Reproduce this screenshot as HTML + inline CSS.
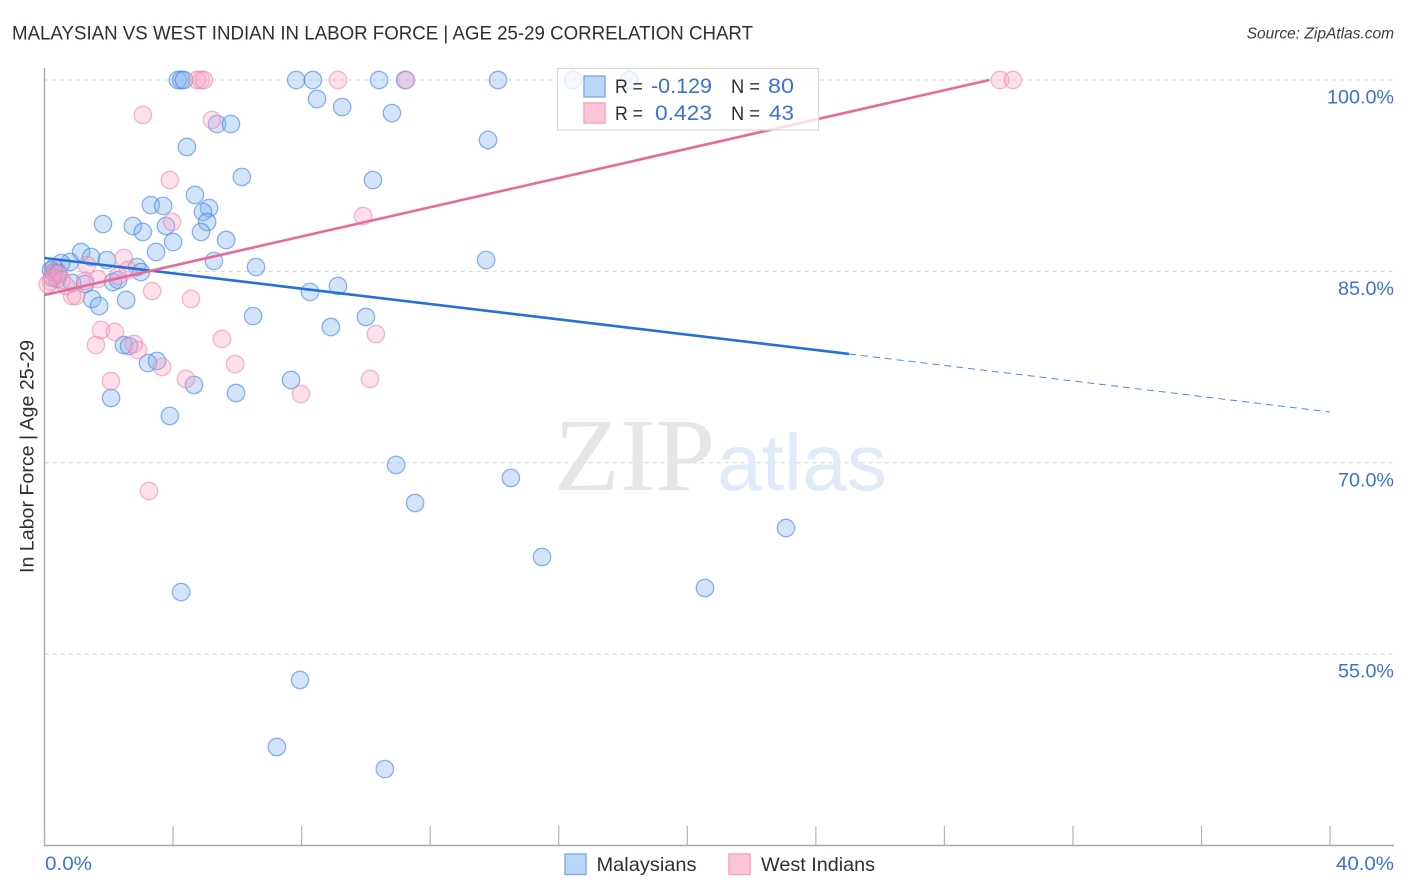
<!DOCTYPE html>
<html>
<head>
<meta charset="utf-8">
<title>Malaysian vs West Indian In Labor Force Correlation Chart</title>
<style>
html,body{margin:0;padding:0;background:#fff;width:1406px;height:892px;overflow:hidden}
svg{display:block}
text{font-family:"Liberation Sans",sans-serif}
</style>
</head>
<body>
<svg id="chart" width="1406" height="892" viewBox="0 0 1406 892" xmlns="http://www.w3.org/2000/svg">
  <text x="12" y="39.5" font-size="19.5" fill="#2d2f36" textLength="741" lengthAdjust="spacingAndGlyphs">MALAYSIAN VS WEST INDIAN IN LABOR FORCE | AGE 25-29 CORRELATION CHART</text>
  <text x="1394" y="38.5" font-size="15.5" font-style="italic" fill="#3a3c42" text-anchor="end">Source: ZipAtlas.com</text>
  <g id="grid"></g>
  <g>
    <text x="554" y="490" font-size="104" fill="#e6e6e6" textLength="161" lengthAdjust="spacingAndGlyphs" style="font-family:'Liberation Serif',serif">ZIP</text>
    <text x="717" y="490" font-size="80" fill="#e0eaf8" textLength="170" lengthAdjust="spacingAndGlyphs">atlas</text>
  </g>
  <g id="axes"></g>
  <g id="points-blue"></g>
  <g id="points-pink"></g>
  <g id="trends"></g>
  <g id="ylabels"></g>
  <text transform="translate(33.5,456.5) rotate(-90)" font-size="19.5" fill="#2d2f36" text-anchor="middle" textLength="233" lengthAdjust="spacingAndGlyphs">In Labor Force | Age 25-29</text>
  <text x="45" y="870" font-size="19.5" fill="#3b72d3" textLength="47" lengthAdjust="spacingAndGlyphs">0.0%</text>
  <text x="1336" y="870" font-size="19.5" fill="#3b72d3" textLength="58" lengthAdjust="spacingAndGlyphs">40.0%</text>

  <g>
    <rect x="557.5" y="68.5" width="261" height="61.5" fill="#ffffff" fill-opacity="0.76" stroke="#d9d9d9" stroke-width="1.2"/>
    <rect x="584" y="76" width="21" height="21" fill="#b9d5fa" stroke="#7fa9e6" stroke-width="1.4"/>
    <rect x="584" y="103" width="21" height="20" fill="#fcc6d8" stroke="#f2a3bd" stroke-width="1.4"/>
    <text x="615" y="93" font-size="19.5" fill="#2d2f36" textLength="28" lengthAdjust="spacingAndGlyphs">R =</text>
    <text x="651" y="93" font-size="21" fill="#3b72d3" textLength="61" lengthAdjust="spacingAndGlyphs">-0.129</text>
    <text x="731" y="93" font-size="19.5" fill="#2d2f36" textLength="29" lengthAdjust="spacingAndGlyphs">N =</text>
    <text x="768" y="93" font-size="21" fill="#3b72d3" textLength="26" lengthAdjust="spacingAndGlyphs">80</text>
    <text x="615" y="120" font-size="19.5" fill="#2d2f36" textLength="28" lengthAdjust="spacingAndGlyphs">R =</text>
    <text x="655" y="120" font-size="21" fill="#3b72d3" textLength="57" lengthAdjust="spacingAndGlyphs">0.423</text>
    <text x="731" y="120" font-size="19.5" fill="#2d2f36" textLength="29" lengthAdjust="spacingAndGlyphs">N =</text>
    <text x="769" y="120" font-size="21" fill="#3b72d3" textLength="25" lengthAdjust="spacingAndGlyphs">43</text>
  </g>

  <g>
    <rect x="565" y="854" width="21" height="20.5" fill="#b9d5fa" stroke="#7fa9e6" stroke-width="1.4"/>
    <text x="596.5" y="871" font-size="19.5" fill="#2d2f36" textLength="100" lengthAdjust="spacingAndGlyphs">Malaysians</text>
    <rect x="729" y="854" width="21" height="20.5" fill="#fcc6d8" stroke="#f2a3bd" stroke-width="1.4"/>
    <text x="761" y="871" font-size="19.5" fill="#2d2f36" textLength="114" lengthAdjust="spacingAndGlyphs">West Indians</text>
  </g>
</svg>
<script>
// Chart data (x = % Malaysian/West Indian share, y = % in labor force)
const yTickValues = [100, 85, 70, 55];
const yTickLabels = ["100.0%", "85.0%", "70.0%", "55.0%"];
const xTickValues = [0, 4, 8, 12, 16, 20, 24, 28, 32, 36, 40];

const malaysianX = [4.15,4.25,4.34,7.83,8.35,10.41,11.22,14.11,16.44,18.19,
  8.48,9.26,10.81,13.80,4.43,5.37,5.80,6.14,10.22,4.68,
  3.31,3.69,5.12,4.93,5.06,1.82,2.75,3.06,3.78,4.87,
  5.65,4.00,3.47,1.14,5.27,6.58,13.74,9.13,8.26,1.45,
  1.94,2.88,3.00,0.79,0.52,0.30,0.20,0.30,0.42,0.25,
  0.40,0.86,2.13,2.29,1.26,1.48,1.70,2.54,6.49,
  10.00,8.91,2.47,2.63,3.22,3.50,4.65,7.67,5.96,2.07,
  3.90,10.94,11.53,14.51,15.48,23.07,20.55,4.25,7.95,7.23,10.59];
const malaysianY = [100,100,100,100,100,100,100,100,100,100,
  98.51,97.88,97.41,95.30,94.75,96.55,96.55,92.40,92.16,90.99,
  90.20,90.13,89.97,89.66,88.87,88.71,88.56,88.09,88.56,88.09,
  87.46,87.30,86.52,86.52,85.82,85.34,85.89,83.86,83.39,86.13,
  85.89,85.34,84.95,85.74,85.66,85.30,85.10,84.90,84.90,84.50,
  84.40,84.09,84.17,84.33,84.01,82.84,82.29,82.76,81.50,
  81.43,80.64,79.23,79.15,77.82,77.98,76.10,76.49,75.47,75.08,
  73.67,69.83,66.85,68.81,62.62,64.89,60.19,59.87,52.98,47.73,46.00];

const westIndianX = [4.74,4.87,4.96,9.13,11.25,29.73,30.13,
  3.06,5.21,3.90,3.97,9.91,2.47,1.32,2.60,1.66,2.29,4.56,3.35,
  5.52,10.31,5.93,10.13,3.66,4.40,7.98,2.07,1.60,1.76,2.19,
  2.78,2.91,3.25,0.86,0.98,0.67,1.26,0.30,0.25,0.20,0.45,0.54,0.10];
const westIndianY = [100,100,100,100,100,100,100,
  97.26,96.87,92.16,88.87,89.34,86.05,85.50,85.11,84.40,84.64,82.84,83.46,
  79.70,80.09,77.74,76.57,77.51,76.57,75.39,76.41,79.23,80.41,80.25,
  79.31,78.84,67.79,83.07,83.07,83.86,84.25,85.00,84.60,84.20,84.80,84.33,84.00];

const malaysianTrendX = [0, 25.03];
const malaysianTrendY = [86.05, 78.53];
const malaysianDashX = [25.03, 40];
const malaysianDashY = [78.53, 73.98];
const westIndianTrendX = [0, 29.4];
const westIndianTrendY = [83.15, 100];

const NS = "http://www.w3.org/2000/svg";
function sx(v) { return 44.5 + v * 32.14; }
function sy(v) { return 80 + (100 - v) * 12.76; }
function make(tag, attrs, parent) {
  const el = document.createElementNS(NS, tag);
  for (const k in attrs) el.setAttribute(k, attrs[k]);
  parent.appendChild(el);
  return el;
}

const gridG = document.getElementById('grid');
yTickValues.forEach(function (v) {
  const g = make('line', {x1: 44.5, x2: 1394, y1: sy(v), y2: sy(v), stroke: '#d4d4d4', 'stroke-width': 1, 'stroke-dasharray': '4 4'}, gridG);
  
  
});

const axesG = document.getElementById('axes');
const yAxis = make('line', {x1: 44.5, x2: 44.5, y1: 68, y2: 846, stroke: '#a9a9a9', 'stroke-width': 1.4}, axesG);


const xAxis = make('line', {x1: 44, x2: 1394, y1: 845.5, y2: 845.5, stroke: '#a9a9a9', 'stroke-width': 1.4}, axesG);


xTickValues.forEach(function (v) {
  const t = make('line', {x1: sx(v), x2: sx(v), y1: 826, y2: 845.5, stroke: '#b4b4b4', 'stroke-width': 1.2}, axesG);
  
  
});

const yLabG = document.getElementById('ylabels');
yTickValues.forEach(function (v, i) {
  const t = make('text', {x: 1394, y: sy(v) + 23.5, 'font-size': 19.5, fill: '#3b72d3', 'text-anchor': 'end', textLength: v === 100 ? 67 : 56, lengthAdjust: 'spacingAndGlyphs'}, yLabG);
  
  
  t.textContent = yTickLabels[i];
});

const blueG = document.getElementById('points-blue');
malaysianX.forEach(function (x, i) {
  const c = make('circle', {cx: sx(x), cy: sy(malaysianY[i]), r: 8.7, fill: 'rgba(125,175,240,0.34)', stroke: 'rgba(70,135,225,0.62)', 'stroke-width': 1.3}, blueG);
  
  
});
const pinkG = document.getElementById('points-pink');
westIndianX.forEach(function (x, i) {
  const c = make('circle', {cx: sx(x), cy: sy(westIndianY[i]), r: 8.7, fill: 'rgba(248,165,195,0.34)', stroke: 'rgba(235,130,170,0.55)', 'stroke-width': 1.3}, pinkG);
  
  
});

const trendG = document.getElementById('trends');
const bt = make('line', {x1: sx(malaysianTrendX[0]), y1: sy(malaysianTrendY[0]), x2: sx(malaysianTrendX[1]), y2: sy(malaysianTrendY[1]), stroke: '#2470dc', 'stroke-width': 2.6}, trendG);


const bd = make('line', {x1: sx(malaysianDashX[0]), y1: sy(malaysianDashY[0]), x2: sx(malaysianDashX[1]), y2: sy(malaysianDashY[1]), stroke: '#2470dc', 'stroke-width': 1, 'stroke-dasharray': '7 5', opacity: 0.8}, trendG);


const pt = make('line', {x1: sx(westIndianTrendX[0]), y1: sy(westIndianTrendY[0]), x2: sx(westIndianTrendX[1]), y2: sy(westIndianTrendY[1]), stroke: '#e8699a', 'stroke-width': 2.6}, trendG);


</script>
</body>
</html>
